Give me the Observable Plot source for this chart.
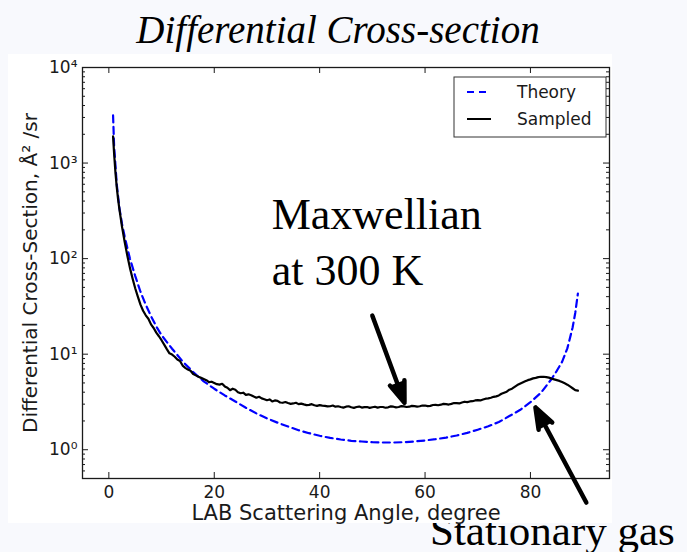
<!DOCTYPE html>
<html>
<head>
<meta charset="utf-8">
<script src="https://cdn.jsdelivr.net/npm/d3@7"></script>
<script src="https://cdn.jsdelivr.net/npm/@observablehq/plot@0.6"></script>
<style>
  html, body { margin: 0; padding: 0; background: #f8f9fd; }
  #page { position: relative; width: 687px; height: 552px; overflow: hidden; }
  #backdrop { position: absolute; left: 0; top: 0; }
  #chart { position: absolute; left: 8px; top: 54px; background: #fff; line-height: 0; }
</style>
</head>
<body>
<div id="page">
  <svg id="backdrop" width="687" height="552"></svg>
  <div id="chart"></div>
</div>
<script>
// Theoretical differential cross-section (Å²/sr) vs. lab scattering angle (deg)
const theoryAngle = [0.8, 1.0, 1.5, 2, 2.5, 3, 3.5, 4, 5, 6, 7, 8, 9, 10, 12, 14, 16, 18, 20, 22, 24, 26, 28, 30,
  32, 34, 36, 38, 40, 42, 44, 46, 48, 50, 52, 54, 56, 58, 60, 62, 64, 66, 68, 70, 72, 74, 76, 78, 80, 82, 84, 85, 86, 87, 88, 88.5, 89];
const theoryValue = [3150, 1500, 600, 340, 230, 170, 130, 100, 66, 45, 33, 25, 19.5, 15.8, 11.4, 8.4, 6.5, 5.2, 4.35, 3.7, 3.2, 2.75, 2.4, 2.13,
  1.92, 1.75, 1.6, 1.49, 1.4, 1.33, 1.28, 1.24, 1.22, 1.2, 1.19, 1.19, 1.2, 1.22, 1.25, 1.29, 1.34, 1.41, 1.5, 1.62, 1.76, 1.95, 2.25, 2.6, 3.15, 3.95, 5.5, 6.7, 8.3, 11.5, 19, 27, 43];

// Sampled (Maxwellian gas at 300 K) cross-section
const sampledAngle = [0.8, 1.0, 1.25, 1.5, 1.75, 2.0, 2.5, 3.0, 3.5, 4.0, 4.5, 5.0, 5.5, 6.0, 6.5, 7.0, 7.5, 8.0, 8.5, 9.0, 9.5, 10.0,
  10.5, 11.0, 11.5, 12, 12.5, 13, 13.5, 14, 14.5, 15, 15.5, 16, 16.5, 17, 17.5,
  18, 18.5, 19, 19.5, 20, 20.5, 21, 21.5, 22, 22.5, 23, 23.5, 24, 24.5, 25, 25.5, 26, 26.5, 27, 27.5, 28, 28.5, 29, 29.5,
  30, 30.5, 31, 31.5, 32, 32.5, 33, 33.5, 34, 34.5, 35, 35.5, 36, 36.5, 37, 37.5, 38, 38.5, 39, 39.5,
  40, 40.5, 41, 41.5, 42, 42.5, 43, 43.5, 44, 44.5, 45, 45.5, 46, 46.5, 47, 47.5, 48, 48.5, 49, 49.5,
  50, 50.5, 51, 51.5, 52, 52.5, 53, 53.5, 54, 54.5, 55, 55.5, 56, 56.5, 57, 57.5, 58, 58.5, 59, 59.5,
  60, 60.5, 61, 61.5, 62, 62.5, 63, 63.5, 64, 64.5, 65, 65.5, 66, 66.5, 67, 67.5, 68, 68.5, 69, 69.5,
  70, 70.5, 71, 71.5, 72, 72.5, 73, 73.5, 74, 74.5, 75, 75.5, 76, 76.5, 77, 77.5, 78, 78.5, 79, 79.5,
  80, 80.5, 81, 81.5, 82, 82.5, 83, 83.5, 84, 84.5, 85, 85.5, 86, 86.5, 87, 87.5, 88, 88.5, 89];
const sampledValue = [1900, 1250, 800, 560, 420, 330, 215, 150, 108, 80, 62, 49, 40, 33, 28.5, 25.5, 23.5, 20.5, 18.8, 16.8, 15.4, 14.0,
  12.6, 11.3, 10.2, 9.9, 9.4, 8.8, 8.5, 7.6, 7.2, 6.9, 6.7, 6.2, 6.0, 5.8, 5.65,
  5.5, 5.35, 5.1, 5.15, 5.0, 4.85, 4.8, 4.9, 4.6, 4.45, 4.2, 4.35, 4.25, 4.0, 3.9, 3.95, 3.75, 3.8, 3.72, 3.6, 3.5, 3.58, 3.45, 3.38,
  3.3, 3.36, 3.2, 3.28, 3.25, 3.12, 3.1, 3.16, 3.08, 3.02, 3.05, 3.1, 3.0, 3.04, 2.98, 2.93, 2.95, 3.0, 2.92, 2.88,
  2.93, 2.9, 2.88, 2.84, 2.85, 2.9, 2.82, 2.85, 2.8, 2.76, 2.82, 2.85, 2.78, 2.74, 2.8, 2.83, 2.76, 2.79, 2.8, 2.74,
  2.78, 2.82, 2.76, 2.8, 2.8, 2.75, 2.78, 2.84, 2.82, 2.78, 2.8, 2.86, 2.84, 2.8, 2.82, 2.88, 2.86, 2.83, 2.85, 2.9,
  2.9, 2.86, 2.88, 2.94, 2.95, 2.92, 2.96, 3.02, 3.0, 2.97, 3.02, 3.08, 3.08, 3.05, 3.12, 3.18, 3.15, 3.2, 3.22, 3.28,
  3.3, 3.28, 3.35, 3.42, 3.45, 3.5, 3.58, 3.62, 3.7, 3.85, 3.95, 4.05, 4.25, 4.35, 4.55, 4.75, 4.9, 5.05, 5.2, 5.35,
  5.45, 5.58, 5.65, 5.75, 5.8, 5.8, 5.75, 5.68, 5.55, 5.45, 5.35, 5.25, 5.1, 4.95, 4.8, 4.6, 4.4, 4.2, 4.15];

const seriesNames = ["Theory", "Sampled"];
const xTicks = [0, 20, 40, 60, 80];
const yTicks = [1, 10, 100, 1000, 10000];
const yTickLabels = ["10⁰", "10¹", "10²", "10³", "10⁴"];
const yMinorTicks = [0.6, 0.7, 0.8, 0.9].concat(
  ...[1, 10, 100, 1000].map(d => [2, 3, 4, 5, 6, 7, 8, 9].map(m => m * d)));

const titleText = "Differential Cross-section";
const xLabel = "LAB Scattering Angle, degree";
const yLabel = "Differential Cross-Section, Å² /sr";

// Annotations: callout text and arrows, in data units
const callouts = [{x: 30.9, y: 528, text: "Maxwellian\nat 300 K"}];
const arrows = [
  {x1: 50.0, y1: 25.3, x2: 56.1, y2: 3.1},
  {x1: 90.6, y1: 0.28, x2: 80.95, y2: 2.77}
];
const footnote = "Stationary gas";

const theory = theoryAngle.map((a, i) => ({angle: a, value: theoryValue[i]}));
const sampled = sampledAngle.map((a, i) => ({angle: a, value: sampledValue[i]}));

const W = 604, H = 469, ML = 74, MR = 3, MT = 13, MB = 45;
const innerW = W - ML - MR, innerH = H - MT - MB;
const ink = "#1a1a1a";
const yFmt = new Map(yTicks.map((t, i) => [t, yTickLabels[i]]));
const serif = "'Liberation Serif', 'DejaVu Serif', serif";
const sans = "'DejaVu Sans', sans-serif";

const chart = Plot.plot({
  width: W, height: H,
  marginLeft: ML, marginRight: MR, marginTop: MT, marginBottom: MB,
  style: {fontFamily: sans, background: "#fff", overflow: "visible"},
  x: {domain: [-5, 95], label: null},
  y: {type: "log", domain: [0.5, 1e4], label: null},
  marks: [
    // inward ticks on all four sides, matplotlib style
    Plot.ruleY(yTicks, {insetRight: innerW - 6, stroke: ink}),
    Plot.ruleY(yTicks, {insetLeft: innerW - 6, stroke: ink}),
    Plot.ruleY(yMinorTicks, {insetRight: innerW - 3, stroke: ink}),
    Plot.ruleY(yMinorTicks, {insetLeft: innerW - 3, stroke: ink}),
    Plot.ruleX(xTicks, {insetTop: innerH - 6, stroke: ink}),
    Plot.ruleX(xTicks, {insetBottom: innerH - 6, stroke: ink}),
    Plot.axisX(xTicks, {tickSize: 0, tickPadding: 7, fontSize: 17, fill: ink, label: null, tickFormat: d => String(d)}),
    Plot.axisY(yTicks, {tickSize: 0, tickPadding: 5, fontSize: 17, fill: ink, label: null, tickFormat: d => yFmt.get(d)}),
    Plot.text([xLabel], {frameAnchor: "bottom", textAnchor: "middle", lineAnchor: "middle", dy: 35, fontSize: 21, fill: ink}),
    Plot.text([yLabel], {frameAnchor: "left", textAnchor: "middle", lineAnchor: "middle", dx: -52, rotate: -90, fontSize: 20, fill: ink}),
    Plot.line(theory, {x: "angle", y: "value", stroke: "#0000ff", strokeWidth: 2.2, strokeDasharray: "7,4.5"}),
    Plot.line(sampled, {x: "angle", y: "value", stroke: "#000", strokeWidth: 2.2}),
    Plot.frame({stroke: ink, strokeWidth: 1.3}),
    Plot.text(callouts, {x: "x", y: "y", text: "text", textAnchor: "start", lineAnchor: "top",
      lineHeight: 1.27, fontSize: 44, fontFamily: serif, fill: "#000"}),
    Plot.arrow(arrows, {x1: "x1", y1: "y1", x2: "x2", y2: "y2", stroke: "#000", fill: "#000",
      strokeWidth: 4.5, headLength: 7.5, headAngle: 40, strokeLinejoin: "miter"})
  ]
});
document.getElementById("chart").appendChild(chart);

// Legend box in the upper-right corner of the axes
const legendStyles = [
  {stroke: "#0000ff", dash: "7,5"},
  {stroke: "#000", dash: null}
];
const lg = d3.select(chart).append("g").attr("transform", "translate(446,23)");
lg.append("rect").attr("width", 152).attr("height", 60)
  .attr("fill", "#fff").attr("stroke", "#333").attr("stroke-width", 1);
seriesNames.forEach((name, i) => {
  const row = lg.append("g").attr("transform", `translate(0,${15 + i * 27})`);
  row.append("line").attr("x1", 13).attr("x2", 37).attr("y1", 0).attr("y2", 0)
    .attr("stroke", legendStyles[i].stroke).attr("stroke-width", 2)
    .attr("stroke-dasharray", legendStyles[i].dash);
  row.append("text").attr("x", 63).attr("y", 0).attr("dy", "0.35em").attr("text-anchor", "start")
    .attr("font-size", 17).attr("font-family", sans).attr("fill", ink).text(name);
});

// Title above the chart and the caption partly tucked underneath it
const back = d3.select("#backdrop");
back.append("text").attr("x", 338).attr("y", 43).attr("text-anchor", "middle")
  .attr("font-family", serif).attr("font-style", "italic").attr("font-size", 39).text(titleText);
back.append("text").attr("x", 430).attr("y", 545)
  .attr("font-family", serif).attr("font-size", 43).text(footnote);
</script>
</body>
</html>
